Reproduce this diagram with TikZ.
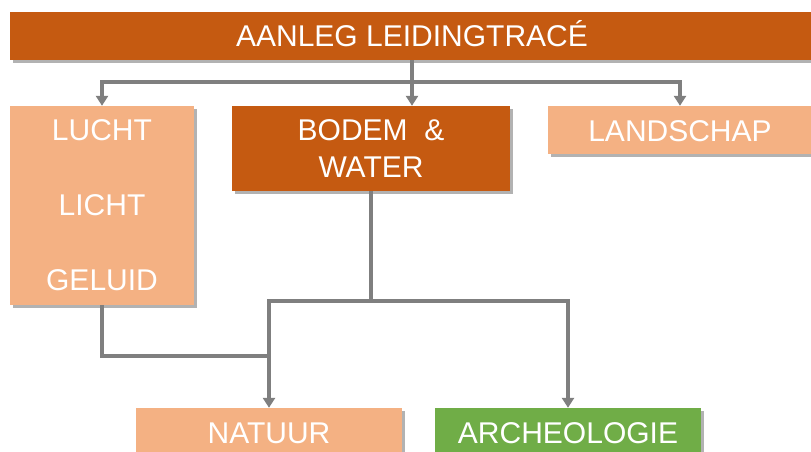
\documentclass[tikz,border=0pt]{standalone}
\usepackage{fontspec}
\setmainfont{Liberation Sans}
\usepackage{tikz}
\usetikzlibrary{arrows.meta,shadows,calc}
\definecolor{TrOrange}{HTML}{C55A11}
\definecolor{TrPeach} {HTML}{F4B183}
\definecolor{TrGreen} {HTML}{70AD47}
\definecolor{TrGray}  {HTML}{7F7F7F}
\definecolor{TrWhite} {HTML}{FFFFFF}

\begin{document}
\begin{tikzpicture}[x=1pt,y=-1pt,
    block/.style={rectangle,inner sep=0pt,text=TrWhite,align=center,
      font=\fontsize{30}{36}\selectfont,
      drop shadow={shadow xshift=3pt,shadow yshift=-3pt,opacity=0.3,fill=black}},
    link/.style={draw=TrGray,line width=3.5pt},
    arrow/.style={link,-{Triangle[width=12pt,length=10pt]}}]
    \useasboundingbox (0,0) rectangle (811,452);

    % Top bar
    \node[block,fill=TrOrange,minimum width=804pt,minimum height=48pt,
      text height=22pt,text depth=0pt] (top) at (412,36) {AANLEG LEIDINGTRACÉ};

    % Second row
    \node[block,fill=TrPeach,minimum width=184pt,minimum height=199pt,
      font=\fontsize{30}{75}\selectfont] (lucht) at (102,205.5)
      {LUCHT\\LICHT\\GELUID};
    \node[block,fill=TrOrange,minimum width=278pt,minimum height=85pt,
      font=\fontsize{30}{37}\selectfont] (bodem) at (371,148.5)
      {BODEM\ \ \&\\WATER};
    \node[block,fill=TrPeach,minimum width=264pt,minimum height=48pt,
      text height=22pt,text depth=0pt] (landschap) at (680,130) {LANDSCHAP};

    % Bottom row
    \node[block,fill=TrPeach,minimum width=266pt,minimum height=48pt,
      text height=22pt,text depth=0pt] (natuur) at (269,432) {NATUUR};
    \node[block,fill=TrGreen,minimum width=266pt,minimum height=48pt,
      text height=22pt,text depth=0pt] (archeo) at (568,432) {ARCHEOLOGIE};

    % Connectors
    \coordinate (split) at ($(top.south)+(0,22)$);
    \draw[link]  (top.south) -- (split);
    \draw[arrow] (split) -| (lucht.north);
    \draw[arrow] (split) -- (split |- bodem.north);
    \draw[arrow] (split) -| (landschap.north);

    \coordinate (fork) at ($(bodem.south)+(0,110)$);
    \draw[arrow] (bodem.south) -- (fork) -| (natuur.north);
    \draw[arrow] (fork) -| (archeo.north);

    \coordinate (merge) at ($(natuur.north)+(0,-52)$);
    \draw[link]  (lucht.south) |- (merge);
  \end{tikzpicture}
\end{document}
